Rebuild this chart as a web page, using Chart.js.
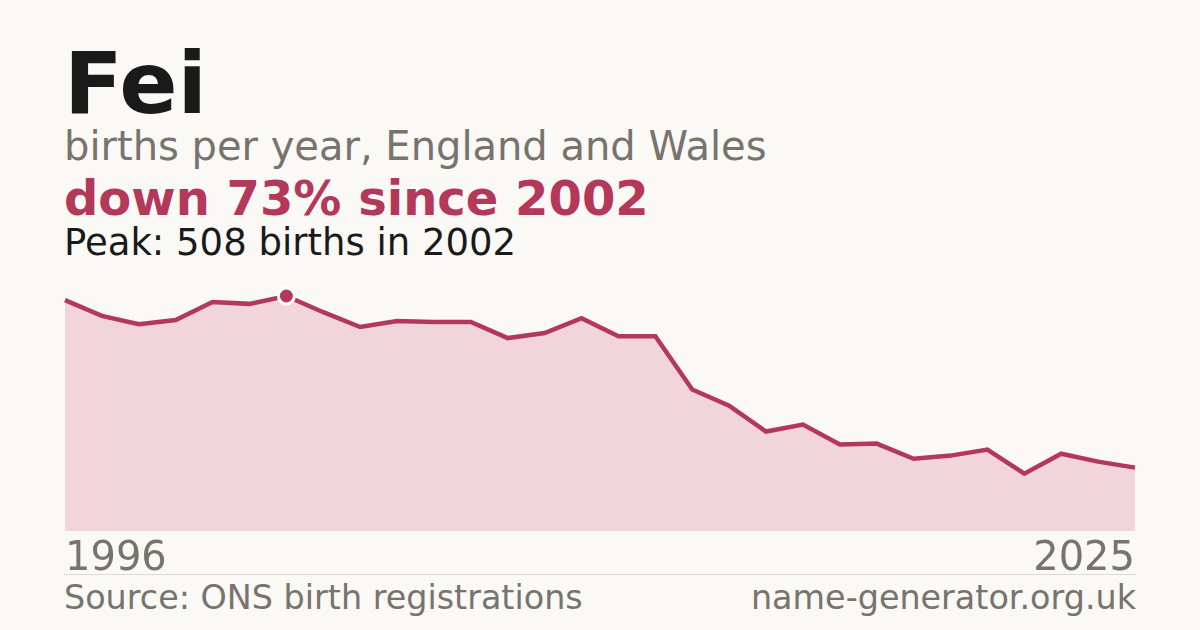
<!DOCTYPE html>
<html>
<head>
<meta charset="utf-8">
<script src="https://cdn.jsdelivr.net/npm/chart.js@4.4.1/dist/chart.umd.min.js"></script>
<style>
  html, body { margin: 0; padding: 0; }
  body {
    width: 1200px; height: 630px; overflow: hidden;
    background: #faf9f5; position: relative;
    font-family: "DejaVu Sans", sans-serif;
  }
  .t { position: absolute; left: 64px; line-height: 1; white-space: nowrap; }
  #title { top: 40px; font-size: 86px; font-weight: bold; color: #1a1a1a; }
  #sub { top: 126px; font-size: 40px; color: #78736c; }
  #change { top: 174px; font-size: 48px; font-weight: bold; color: #b3385a; }
  #peak { top: 224px; font-size: 37px; color: #1a1a1a; }
  #rule { position: absolute; left: 64px; top: 574px; width: 1072px; height: 1px; background: #dedbd4; }
  #source { top: 581px; font-size: 33.4px; color: #78736c; }
  #site { top: 581px; left: auto; right: 64px; font-size: 33.4px; color: #78736c; }
  #wrap { position: absolute; left: 64px; top: 286px; width: 1072px; height: 295px; }
</style>
</head>
<body>
<div class="t" id="title">Fei</div>
<div class="t" id="sub">births per year, England and Wales</div>
<div class="t" id="change">down 73% since 2002</div>
<div class="t" id="peak">Peak: 508 births in 2002</div>
<div id="rule"></div>
<div class="t" id="source">Source: ONS birth registrations</div>
<div class="t" id="site">name-generator.org.uk</div>
<div id="wrap"><canvas id="chart"></canvas></div>

<script>
const years = [
  "1996", "1997", "1998", "1999", "2000", "2001", "2002", "2003", "2004", "2005",
  "2006", "2007", "2008", "2009", "2010", "2011", "2012", "2013", "2014", "2015",
  "2016", "2017", "2018", "2019", "2020", "2021", "2022", "2023", "2024", "2025"
];
const births = [
  499, 465, 447, 456, 495, 491, 508, 473, 441, 454,
  452, 452, 417, 428, 460, 421, 421, 306, 271, 215,
  230, 187, 189, 156, 163, 176, 124, 167, 150, 137
];

const lineColor = "#b3385a";
const peakValue = Math.max(...births);
const peakIndex = births.indexOf(peakValue);

const ctx = document.getElementById("chart").getContext("2d");
new Chart(ctx, {
  type: "line",
  data: {
    labels: years,
    datasets: [
      {
        data: births,
        borderColor: lineColor,
        borderWidth: 4.5,
        backgroundColor: "#f1d5db",
        fill: "origin",
        tension: 0,
        clip: false,
        pointRadius: births.map((v, i) => (i === peakIndex ? 8 : 0)),
        pointBackgroundColor: lineColor,
        pointBorderColor: "#ffffff",
        pointBorderWidth: 3,
        pointHoverRadius: 0,
      },
    ],
  },
  options: {
    responsive: true,
    maintainAspectRatio: false,
    animation: false,
    layout: { padding: { top: 10, left: 0, right: 0, bottom: 0 } },
    plugins: {
      legend: { display: false },
      tooltip: { enabled: false },
    },
    scales: {
      x: {
        grid: { display: false },
        border: { display: false },
        ticks: {
          autoSkip: false,
          maxRotation: 0,
          align: "inner",
          padding: 1,
          color: "#78736c",
          font: { family: "DejaVu Sans", size: 40, lineHeight: 1 },
          callback: function (value, index) {
            return index === 0 || index === years.length - 1 ? years[index] : "";
          },
        },
      },
      y: {
        display: false,
        min: 0,
        max: peakValue,
      },
    },
  },
});
</script>
</body>
</html>
